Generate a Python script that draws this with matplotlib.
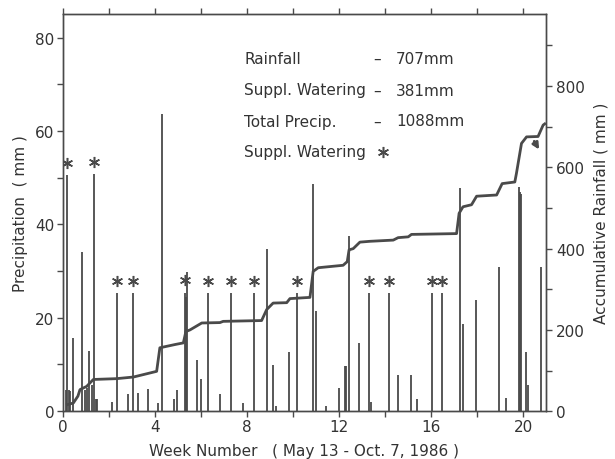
import numpy as np
import matplotlib.pyplot as plt
from matplotlib.ticker import MultipleLocator

# Daily precipitation events (week number, mm)
rain_week = [0.13, 0.27, 0.33, 0.43, 0.85, 0.97, 1.04, 1.14, 1.25, 1.43, 1.50,
             2.15, 2.85, 3.28, 3.72, 4.12, 4.30, 4.85, 4.98, 5.36, 5.41, 5.84,
             5.99, 6.84, 7.84, 8.88, 9.12, 9.26, 9.84, 10.86, 10.99, 11.42,
             12.00, 12.25, 12.31, 12.43, 12.85, 13.40, 14.57, 15.15, 15.40,
             17.25, 17.37, 17.95, 18.95, 19.24, 19.82, 19.87, 19.92, 20.12,
             20.23, 20.77]
rain_mm = [4.5, 4.5, 4.3, 15.7, 34.0, 4.6, 5.0, 12.9, 5.7, 2.7, 2.7,
           1.9, 3.7, 3.9, 4.8, 1.8, 63.7, 2.7, 4.6, 24.5, 29.7, 11.0,
           6.8, 3.7, 1.7, 34.7, 9.8, 1.0, 12.7, 48.6, 21.5, 1.0,
           5.0, 9.7, 9.7, 37.6, 14.7, 1.9, 7.7, 7.7, 2.7,
           47.7, 18.6, 23.8, 30.8, 2.9, 47.9, 46.9, 46.5, 12.7,
           5.7, 30.8]

# Supplemental watering events (marked with *)
suppl_week = [0.20, 1.35, 2.34, 3.07, 5.30, 6.32, 7.32, 8.31, 10.19, 13.31,
              14.17, 16.05, 16.47]
suppl_mm = [50.6, 50.7, 25.2, 25.2, 25.4, 25.2, 25.2, 25.2, 25.2, 25.2,
            25.2, 25.2, 25.2]

# Accumulative rainfall curve (week, mm)
cum_week = [0.20, 0.46, 0.66, 0.75, 1.04, 1.33, 2.34, 3.07, 4.08, 4.22, 4.88,
            5.24, 5.35, 5.53, 6.04, 6.83, 6.97, 8.64, 8.86, 9.14, 9.73, 9.87,
            10.74, 10.88, 11.10, 12.18, 12.36, 12.44, 12.62, 12.91, 13.34,
            14.36, 14.57, 15.01, 15.15, 17.11, 17.22, 17.39, 17.76, 17.98,
            18.85, 19.09, 19.64, 19.71, 19.93, 20.15, 20.65, 20.87, 20.94]
cum_mm = [16, 20, 37, 53, 61, 78, 80, 84, 98, 156, 164,
          168, 196, 200, 217, 218, 221, 223, 250, 266, 267, 277,
          280, 344, 353, 359, 368, 397, 400, 416, 418,
          421, 427, 429, 435, 437, 487, 503, 508, 529,
          532, 560, 564, 585, 659, 675, 676, 704, 707]

totals = [("Rainfall", "707mm"), ("Suppl. Watering", "381mm"),
          ("Total Precip.", "1088mm")]

ink = '#4a4a4a'
txt = '#333333'
fs = 11
plt.rcParams['font.family'] = ['DejaVu Sans']

fig = plt.figure(figsize=(6.15, 4.6), dpi=100)
ax = fig.add_axes([0.102, 0.104, 0.786, 0.863])

ax.vlines(rain_week, 0, rain_mm, color=ink, lw=1.3)
ax.vlines(suppl_week, 0, suppl_mm, color=ink, lw=1.3)
ax.plot(suppl_week, np.array(suppl_mm) + 2.6, ls='none', marker=(6, 2, 0),
        ms=8, mew=1.1, color=ink)

ax.set_xlim(0, 21)
ax.set_ylim(0, 85)
ax.xaxis.set_major_locator(MultipleLocator(4))
ax.xaxis.set_minor_locator(MultipleLocator(2))
ax.yaxis.set_major_locator(MultipleLocator(20))
ax.yaxis.set_minor_locator(MultipleLocator(10))
ax.tick_params(which='both', direction='out', length=4, width=1, colors=ink,
               labelcolor=txt, labelsize=fs, top=True, pad=2)
ax.set_ylabel("Precipitation  ( mm )", color=txt, fontsize=fs, labelpad=5)
ax.set_xlabel("Week Number   ( May 13 - Oct. 7, 1986 )", color=txt,
              fontsize=fs, labelpad=6)

ax2 = ax.twinx()
ax2.plot(cum_week, cum_mm, color=ink, lw=2)
ax2.set_ylim(0, 977)
ax2.yaxis.set_major_locator(MultipleLocator(200))
ax2.yaxis.set_minor_locator(MultipleLocator(100))
ax2.tick_params(which='both', direction='out', length=4, width=1, colors=ink,
                labelcolor=txt, labelsize=fs, pad=3)
ax2.set_ylabel("Accumulative Rainfall ( mm )", color=txt, fontsize=fs,
               labelpad=6)
ax2.annotate("", xy=(20.76, 638), xytext=(20.42, 670),
             arrowprops=dict(arrowstyle='-|>', color=ink, lw=2,
                             mutation_scale=9))

for a in (ax, ax2):
    for s in a.spines.values():
        s.set_color(ink)
        s.set_linewidth(1)

# Summary block
rows_y = [59, 91, 122]
for (name, val), py in zip(totals, rows_y):
    fig.text(244 / 615, 1 - py / 460, name, color=txt, fontsize=fs, va='center')
    fig.text(377 / 615, 1 - py / 460, "\u2013", color=txt, fontsize=fs,
             va='center', ha='center')
    fig.text(396 / 615, 1 - py / 460, val, color=txt, fontsize=fs, va='center')
fig.text(244 / 615, 1 - 153 / 460, "Suppl. Watering", color=txt, fontsize=fs,
         va='center')
ax.plot([383 / 615], [1 - 153 / 460], transform=fig.transFigure, ls='none',
        marker=(6, 2, 0), ms=8, mew=1.1, color=ink, clip_on=False)

fig.savefig("out.png", dpi=100)
